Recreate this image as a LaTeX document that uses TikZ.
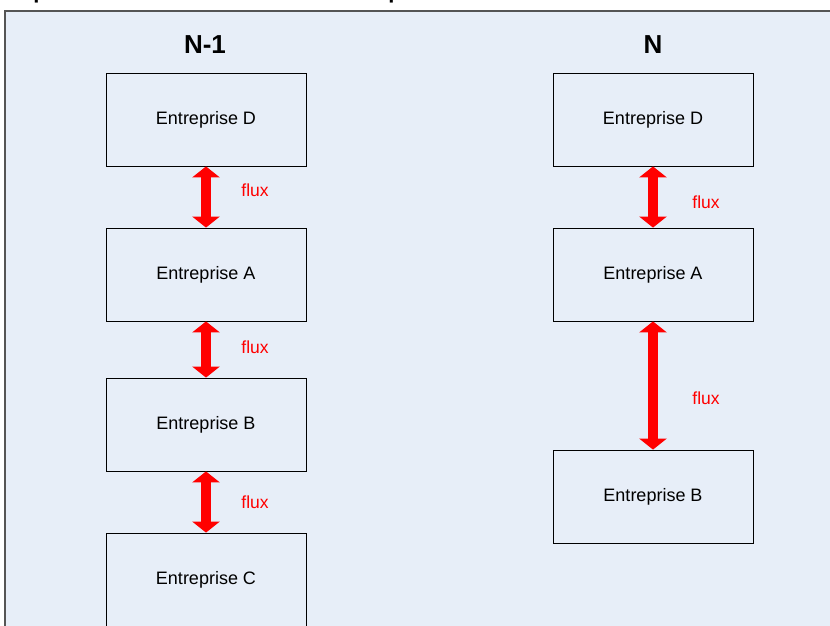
\documentclass[tikz,border=0pt]{standalone}
\usepackage{fontspec}
\setmainfont{Liberation Sans}
\usetikzlibrary{arrows.meta}
\definecolor{panelbg}{HTML}{E7EEF8}
\definecolor{panelrule}{HTML}{555555}
\definecolor{fluxred}{HTML}{FF0000}
\tikzset{
  entbox/.style={draw=black, line width=0.8pt, minimum width=200pt, minimum height=93pt,
    inner sep=0pt, font=\fontsize{18}{21}\selectfont},
  coltitle/.style={font=\fontsize{26}{30}\selectfont\bfseries},
  fluxarrow/.style={draw=fluxred, line width=10pt,
    {Triangle[width=27pt,length=11pt]}-{Triangle[width=27pt,length=11pt]}},
  fluxlabel/.style={text=fluxred, font=\fontsize{17.5}{20}\selectfont}
}
\begin{document}
\begin{tikzpicture}[x=1pt,y=-1pt]
\useasboundingbox (0,0) rectangle (830,625);
\clip (0,0) rectangle (830,625);
% heading line above the panel (only its lower part shows)
\node[anchor=base, font=\fontsize{22}{26}\selectfont\bfseries] (headA) at (40,-1.6) {p};
\node[anchor=base, font=\fontsize{22}{26}\selectfont\bfseries] (headB) at (395,-1.6) {p};
% panel
\filldraw[fill=panelbg, draw=panelrule, line width=1.5pt] (5,11) rectangle (840,640);
% column titles
\node[coltitle] (t1) at (205,45) {N-1};
\node[coltitle] (t2) at (653,45) {N};
% year N-1
\node[entbox] (lD) at (206,119.5) {Entreprise D};
\node[entbox] (lA) at (206,274.5) {Entreprise A};
\node[entbox] (lB) at (206,424.5) {Entreprise B};
\node[entbox] (lC) at (206,579.5) {Entreprise C};
% year N
\node[entbox] (rD) at (653,119.5) {Entreprise D};
\node[entbox] (rA) at (653,274.5) {Entreprise A};
\node[entbox] (rB) at (653,496.5) {Entreprise B};
% flows
\draw[fluxarrow] (lD.south) -- (lA.north);
\draw[fluxarrow] (lA.south) -- (lB.north);
\draw[fluxarrow] (lB.south) -- (lC.north);
\draw[fluxarrow] (rD.south) -- (rA.north);
\draw[fluxarrow] (rA.south) -- (rB.north);
\node[fluxlabel] (f1) at (255,190) {flux};
\node[fluxlabel] (f2) at (255,347) {flux};
\node[fluxlabel] (f3) at (255,502) {flux};
\node[fluxlabel] (f4) at (706,202) {flux};
\node[fluxlabel] (f5) at (706,398) {flux};
\end{tikzpicture}
\end{document}
